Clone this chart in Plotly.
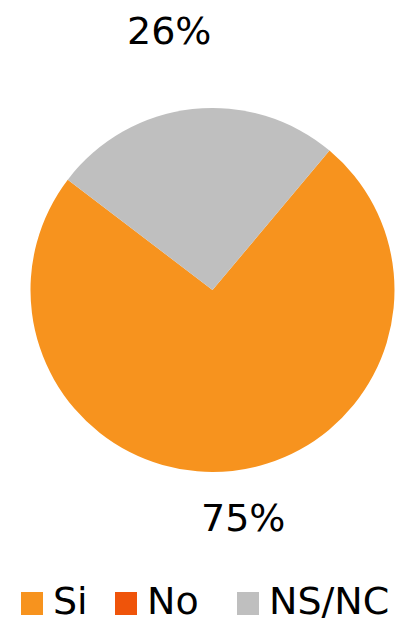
import plotly.graph_objects as go

# Survey answers (percent of respondents)
labels = ["Si", "No", "NS/NC"]
values = [75, 0, 26]
colors = ["#F7931E", "#EF540A", "#BFBFBF"]

W, H = 396, 623
FONT = "DejaVu Sans"


def px_x(x):
    return x / W


def px_y(y):
    return 1 - y / H


fig = go.Figure(
    go.Pie(
        labels=labels,
        values=values,
        marker=dict(colors=colors, line=dict(width=0)),
        sort=False,
        direction="clockwise",
        rotation=40,
        textinfo="none",
        hoverinfo="label+value",
        showlegend=False,
        domain=dict(x=[px_x(30), px_x(395)], y=[px_y(472), px_y(108)]),
    )
)

annotations = []
shapes = []

# Percentage labels for the two visible slices
label_pos = {"NS/NC": (169, 31), "Si": (243, 518)}
for name, v in zip(labels, values):
    if name in label_pos:
        cx, cy = label_pos[name]
        annotations.append(
            dict(
                x=px_x(cx), y=px_y(cy), xref="paper", yref="paper",
                text=f"{v}%", showarrow=False,
                xanchor="center", yanchor="middle",
                font=dict(family=FONT, size=38, color="#000000"),
            )
        )

# Legend row along the bottom
legend_x = [21, 115, 237]
sq = 22
row_bottom = 615
for name, col, lx in zip(labels, colors, legend_x):
    shapes.append(
        dict(
            type="rect", xref="paper", yref="paper",
            x0=px_x(lx), x1=px_x(lx + sq),
            y0=px_y(row_bottom), y1=px_y(row_bottom - sq - 1),
            fillcolor=col, line=dict(width=0),
        )
    )
    annotations.append(
        dict(
            x=px_x(lx + sq + 8), y=px_y(row_bottom - 14), xref="paper", yref="paper",
            text=name, showarrow=False,
            xanchor="left", yanchor="middle",
            font=dict(family=FONT, size=38, color="#000000"),
        )
    )

fig.update_layout(
    width=W,
    height=H,
    margin=dict(l=0, r=0, t=0, b=0),
    paper_bgcolor="white",
    plot_bgcolor="white",
    annotations=annotations,
    shapes=shapes,
)

fig.write_html("out.html")
